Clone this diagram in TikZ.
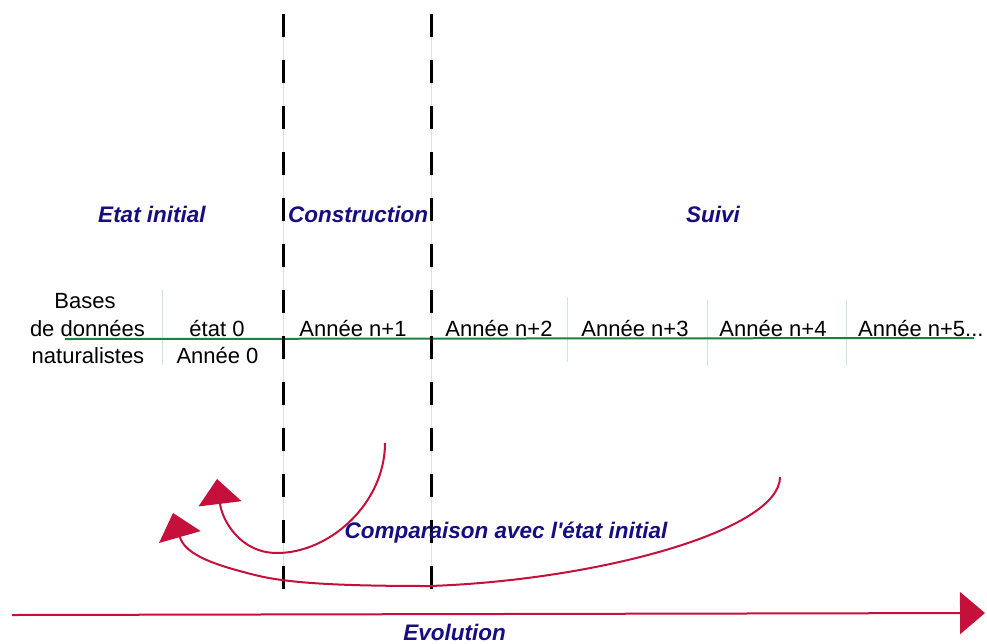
\documentclass[tikz,border=0pt]{standalone}
\usepackage{fontspec}
\setmainfont{Liberation Sans}[Ligatures=TeXOff]
\usetikzlibrary{arrows.meta}
\definecolor{navy}{RGB}{22,14,128}
\definecolor{crim}{RGB}{196,16,58}
\definecolor{grn}{RGB}{30,128,60}
\definecolor{sepc}{RGB}{205,230,225}
\begin{document}
\begin{tikzpicture}[x=1pt,y=-1pt,
  lbl/.style={font=\fontsize{22}{26.5}\selectfont, inner sep=0pt, anchor=base},
  ttl/.style={font=\fontsize{22.5}{27}\selectfont\bfseries\itshape, text=navy, inner sep=0pt, anchor=base},
  phase/.style={black, line width=3pt, dash pattern=on 23pt off 23pt},
  guide/.style={black!13, line width=0.8pt},
  sepline/.style={sepc, line width=0.8pt},
  timeline/.style={grn, line width=2pt},
  redarrow/.style={crim, line width=2pt, -{Triangle[length=25pt,width=43pt]}},
]
\path[use as bounding box] (0,0) rectangle (987,643);

% phase boundaries
\coordinate (p1t) at (283,14);  \coordinate (p1b) at (283,589);
\coordinate (p2t) at (431,14);  \coordinate (p2b) at (431,589);
\draw[guide] (p1t) -- (p1b);
\draw[guide] (p2t) -- (p2b);

% thin separators
\coordinate (s1t) at (162,290); \coordinate (s1b) at (162,365);
\coordinate (s2t) at (567,297); \coordinate (s2b) at (567,362);
\coordinate (s3t) at (707,300); \coordinate (s3b) at (707,366);
\coordinate (s4t) at (846,300); \coordinate (s4b) at (846,366);
\draw[sepline] (s1t) -- (s1b);
\draw[sepline] (s2t) -- (s2b);
\draw[sepline] (s3t) -- (s3b);
\draw[sepline] (s4t) -- (s4b);

% timeline
\coordinate (g1) at (65,339);
\coordinate (g2) at (974,338);
\draw[timeline] (g1) -- (g2);

\draw[phase] (p1t) -- (p1b);
\draw[phase] (p2t) -- (p2b);

% labels of the row
\node[lbl] (b1) at (85,308) {Bases};
\node[lbl] (b2) at (87.5,336) {de données};
\node[lbl] (b3) at (88,363) {naturalistes};
\node[lbl] (e0) at (217,336) {état 0};
\node[lbl] (a0) at (217.5,363) {Année 0};
\node[lbl] (a1) at (353,336) {Année n+1};
\node[lbl] (a2) at (499,336) {Année n+2};
\node[lbl] (a3) at (635,336) {Année n+3};
\node[lbl] (a4) at (773,336) {Année n+4};
\node[lbl, anchor=base west] (a5) at (858,336) {Année n+5...};

% comparison arrows
\coordinate (c1s) at (385,443);
\coordinate (c1m) at (277,553);
\coordinate (c1e) at (217,479);
\draw[redarrow] (c1s) .. controls (385,503) and (330,553) .. (c1m)
  .. controls (240,553) and (222,520) .. (c1e);

\coordinate (c2s) at (780,477);
\coordinate (c2m) at (430,586);
\coordinate (c2k) at (255,575);
\coordinate (c2e) at (173,513);
\draw[redarrow] (c2s) .. controls (780,530) and (600,580) .. (c2m)
  .. controls (350,586) and (290,584) .. (c2k)
  .. controls (215,565) and (185,555) .. (c2e);

% evolution arrow
\coordinate (ev1) at (12,615);
\coordinate (ev2) at (985,613);
\draw[crim, line width=2pt, -{Triangle[length=25pt,width=42pt]}] (ev1) -- (ev2);

% titles
\node[ttl] (t1) at (152,222) {Etat initial};
\node[ttl] (t2) at (358,222) {Construction};
\node[ttl] (t3) at (713,222) {Suivi};
\node[ttl] (cmp) at (506,538) {Comparaison avec l'état initial};
\node[ttl] (evo) at (454.5,640) {Evolution};
\end{tikzpicture}
\end{document}
